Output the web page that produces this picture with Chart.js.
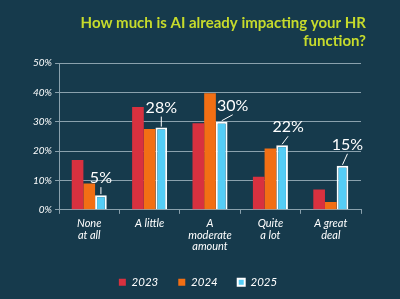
<!DOCTYPE html>
<html>
<head>
<meta charset="utf-8">
<script src="https://cdn.jsdelivr.net/npm/chart.js@4"></script>
<style>
  html, body { margin: 0; padding: 0; background: #163a4c; }
  #wrap { width: 400px; height: 299px; }
</style>
</head>
<body>
<div id="wrap"><canvas id="chart"></canvas></div>
<script>
const categories = [['None', 'at all'], 'A little', ['A', 'moderate', 'amount'], ['Quite', 'a lot'], ['A great', 'deal']];
const seriesNames = ['2023', '2024', '2025'];
const values2023 = [17, 35, 29.5, 11.3, 6.9];
const values2024 = [9, 27.5, 39.7, 20.9, 2.7];
const values2025 = [5, 28, 30, 22, 15];
const labels2025 = ['5%', '28%', '30%', '22%', '15%'];
const yTicks = [0, 10, 20, 30, 40, 50];

// сдвиг подписей над голубыми столбцами (dx, dy)
const labelNudge = [[0, -17], [0, -20], [11, -16], [6, -18], [5, -21]];

const gridColor = '#8aa1ad';
const font = 'Lato, "Open Sans", sans-serif';

// подписи над столбцами 2025 с линией-выноской
const calloutLabels = {
  id: 'calloutLabels',
  afterDatasetsDraw(chart) {
    const { ctx } = chart;
    const meta = chart.getDatasetMeta(2);
    ctx.save();
    meta.data.forEach((bar, i) => {
      const [dx, dy] = labelNudge[i];
      const tx = bar.x + dx;
      const ty = bar.y + dy;
      ctx.strokeStyle = '#ffffff';
      ctx.lineWidth = 1;
      ctx.beginPath();
      ctx.moveTo(bar.x, bar.y - 1);
      ctx.lineTo(tx, ty + 9);
      ctx.stroke();
      ctx.fillStyle = '#ffffff';
      ctx.font = '16px ' + font;
      ctx.textAlign = 'center';
      ctx.textBaseline = 'middle';
      ctx.fillText(labels2025[i], tx, ty);
    });
    ctx.restore();
  },
};

const barStyle = { categoryPercentage: 0.58, barPercentage: 1 };

new Chart(document.getElementById('chart'), {
  type: 'bar',
  data: {
    labels: categories,
    datasets: [
      { label: seriesNames[0], data: values2023, backgroundColor: '#d8313f', borderWidth: 0, ...barStyle },
      { label: seriesNames[1], data: values2024, backgroundColor: '#f26f14', borderWidth: 0, ...barStyle },
      { label: seriesNames[2], data: values2025, backgroundColor: '#55cdf6', borderColor: '#ffffff', borderWidth: 2, ...barStyle },
    ],
  },
  options: {
    responsive: true,
    maintainAspectRatio: false,
    animation: false,
    layout: { padding: { left: 30, right: 34, top: 14, bottom: 1 } },
    plugins: {
      title: {
        display: true,
        text: ['How much is AI already impacting your HR', 'function?'],
        align: 'end',
        color: '#c6db2c',
        font: { family: font, weight: 'bold', size: 15 },
        lineHeight: 1.1,
        padding: { top: 0, bottom: 13 },
      },
      legend: {
        position: 'bottom',
        labels: {
          color: '#ffffff',
          boxWidth: 7,
          boxHeight: 7,
          padding: 20,
          font: { family: font, style: 'italic', size: 11.5 },
        },
      },
      tooltip: { enabled: false },
    },
    scales: {
      y: {
        min: 0,
        max: 50,
        afterBuildTicks: (axis) => { axis.ticks = yTicks.map((v) => ({ value: v })); },
        grid: { color: gridColor, tickLength: 4, lineWidth: 1 },
        border: { color: gridColor },
        ticks: {
          color: '#ffffff',
          padding: 3,
          font: { family: font, style: 'italic', size: 10 },
          callback: (v) => v + '%',
        },
      },
      // пустая ось справа, чтобы заголовок заканчивался правее сетки
      yRight: {
        position: 'right',
        grid: { display: false },
        border: { display: false },
        ticks: { display: false },
        afterFit: (s) => { s.width = 5; },
      },
      x: {
        grid: { offset: true, drawOnChartArea: false, color: gridColor, tickLength: 4 },
        border: { color: gridColor },
        ticks: {
          color: '#ffffff',
          padding: 4,
          maxRotation: 0,
          font: { family: font, style: 'italic', size: 11, lineHeight: 1.05 },
        },
      },
    },
  },
  plugins: [calloutLabels],
});
</script>
</body>
</html>
